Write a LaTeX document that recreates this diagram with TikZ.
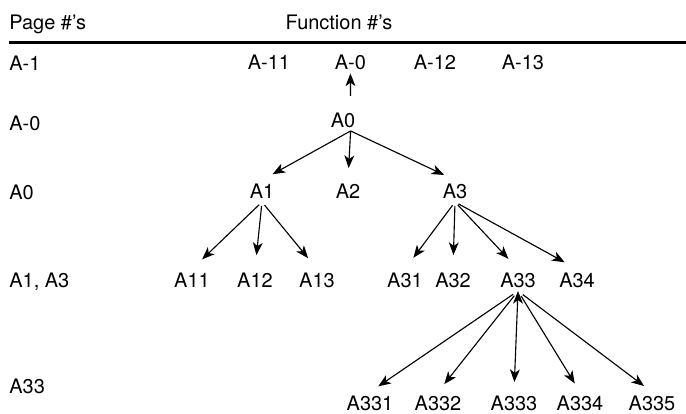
\documentclass[tikz,border=0pt]{standalone}
\usepackage{fontspec}
\setmainfont{TeX Gyre Heros}
\usetikzlibrary{arrows.meta}

\begin{document}
\begin{tikzpicture}[
    every node/.style={font=\fontsize{14.2}{17}\selectfont, inner sep=2.5pt, text height=10.2pt, text depth=0pt},
    pg/.style={anchor=west},
    arr/.style={-{Stealth[length=9pt, width=7pt, inset=2.5pt]}, line width=0.8pt},
  ]
  \useasboundingbox (0, 0) rectangle (17.15, -10.325);

  % headings and the rule under them
  \node[pg] (pages) at (0.14, -0.55) {Page \#'s};
  \node[] (funcs) at (8.475, -0.55) {Function \#'s};
  \draw[line width=2.8pt] (0.225, -1.0625) -- (17.15, -1.0625);

  % page numbers
  \node[pg] (pm1) at (0.14, -1.575) {A-1};
  \node[pg] (pm0) at (0.14, -3.075) {A-0};
  \node[pg] (p0) at (0.14, -4.8) {A0};
  \node[pg] (p13) at (0.14, -7.0) {A1, A3};
  \node[pg] (p33) at (0.14, -9.65) {A33};

  % function numbers
  \node[] (am11) at (6.725, -1.5625) {A-11};
  \node[] (am0) at (8.76, -1.5625) {A-0};
  \node[] (am12) at (10.875, -1.5625) {A-12};
  \node[] (am13) at (13.075, -1.5625) {A-13};

  \node[] (a0) at (8.575, -3.0) {A0};

  \node[] (a1) at (6.55, -4.775) {A1};
  \node[] (a2) at (8.7, -4.775) {A2};
  \node[] (a3) at (11.375, -4.775) {A3};

  \node[] (a11) at (4.8, -7.0) {A11};
  \node[] (a12) at (6.375, -7.0) {A12};
  \node[] (a13) at (7.925, -7.0) {A13};
  \node[] (a31) at (10.125, -7.0) {A31};
  \node[] (a32) at (11.325, -7.0) {A32};
  \node[] (a33) at (12.95, -7.0) {A33};
  \node[] (a34) at (14.425, -7.0) {A34};

  \node[] (a331) at (9.25, -10.075) {A331};
  \node[] (a332) at (10.95, -10.075) {A332};
  \node[] (a333) at (12.85, -10.075) {A333};
  \node[] (a334) at (14.5, -10.075) {A334};
  \node[] (a335) at (16.3, -10.075) {A335};

  \draw[arr]
  ([xshift=0.19cm]a0.north) edge[shorten <=0.33cm] (am0.south)
  ([xshift=0.19cm]a0.south) edge[shorten >=0.3cm] (a1.north)
  ([xshift=0.19cm]a0.south) edge[shorten >=0.3cm] (a2.north)
  ([xshift=0.19cm]a0.south) edge[shorten >=0.3cm] (a3.north)
  (a1.south) edge[shorten <=0.1cm, shorten >=0.35cm] (a11.north)
  (a1.south) edge[shorten <=0.1cm, shorten >=0.35cm] (a12.north)
  (a1.south) edge[shorten <=0.1cm, shorten >=0.35cm] (a13.north)
  (a3.south) edge[shorten <=0.1cm, shorten >=0.35cm] (a31.north)
  (a3.south) edge[shorten <=0.1cm, shorten >=0.35cm] (a32.north)
  (a3.south) edge[shorten <=0.1cm, shorten >=0.35cm] (a33.north)
  (a3.south) edge[shorten <=0.1cm, shorten >=0.35cm] (a34.north)
  (a33.south) edge[shorten <=0.15cm, shorten >=0.25cm] (a331.north)
  (a33.south) edge[shorten <=0.15cm, shorten >=0.25cm] (a332.north)
  (a33.south) edge[shorten <=0.15cm, shorten >=0.25cm] (a333.north)
  (a33.south) edge[shorten <=0.15cm, shorten >=0.25cm] (a334.north)
  (a33.south) edge[shorten <=0.15cm, shorten >=0.25cm] (a335.north);
\end{tikzpicture}
\end{document}
